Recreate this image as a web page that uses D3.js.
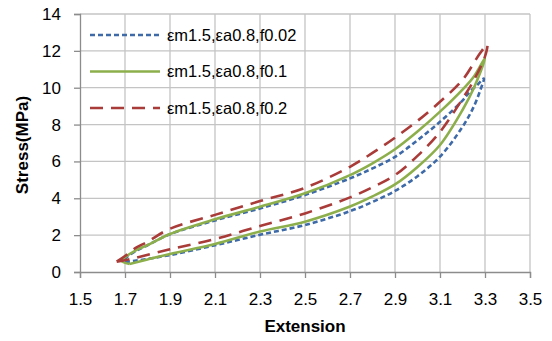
<!DOCTYPE html>
<html>
<head>
<meta charset="utf-8">
<script src="https://cdn.jsdelivr.net/npm/d3@7"></script>
<style>
  body { margin: 0; background: #fff; }
  text { font-family: "Liberation Sans", Arial, sans-serif; fill: #000; }
</style>
</head>
<body>
<svg id="chart" width="552" height="341"></svg>
<script>
// series names
const seriesNames = ["εm1.5,εa0.8,f0.02", "εm1.5,εa0.8,f0.1", "εm1.5,εa0.8,f0.2"];

// loops: [extension, stress], lower branch up to the peak then upper branch back
const loopF002 = [
    [1.70, 0.55], [1.75, 0.62], [1.9, 0.92], [2.1, 1.45], [2.3, 2.02], [2.5, 2.55],
    [2.7, 3.3], [2.8, 3.8], [2.9, 4.4], [3.0, 5.2], [3.1, 6.26], [3.2, 7.88],
    [3.25, 8.97], [3.28, 9.9], [3.295, 10.5],
    [3.27, 10.2], [3.23, 9.75], [3.2, 9.3], [3.1, 8.15], [3.0, 7.15], [2.9, 6.25],
    [2.8, 5.62], [2.7, 5.08], [2.5, 4.18], [2.3, 3.45], [2.1, 2.8], [1.9, 2.05],
    [1.8, 1.45], [1.75, 1.15], [1.70, 0.7], [1.70, 0.55]
];

const loopF01 = [
    [1.72, 0.43], [1.8, 0.68], [1.9, 0.98], [2.1, 1.52], [2.3, 2.2], [2.5, 2.73],
    [2.7, 3.55], [2.8, 4.1], [2.9, 4.75], [3.0, 5.7], [3.1, 6.89], [3.2, 8.79],
    [3.25, 9.97], [3.3, 11.6],
    [3.25, 10.6], [3.2, 9.9], [3.1, 8.7], [3.0, 7.62], [2.9, 6.66], [2.8, 5.9],
    [2.7, 5.26], [2.5, 4.27], [2.3, 3.54], [2.1, 2.86], [1.9, 2.06], [1.8, 1.46],
    [1.75, 1.19], [1.70, 0.8], [1.685, 0.6], [1.72, 0.43]
];

const loopF02 = [
    [1.663, 0.56], [1.72, 0.69], [1.9, 1.23], [2.1, 1.79], [2.3, 2.5], [2.5, 3.18],
    [2.7, 4.05], [2.8, 4.6], [2.9, 5.26], [3.0, 6.3], [3.1, 7.6], [3.2, 9.4],
    [3.25, 10.4], [3.3, 11.7], [3.31, 12.35],
    [3.278, 11.87], [3.2, 10.42], [3.1, 9.24], [3.0, 8.2], [2.9, 7.29], [2.8, 6.46],
    [2.7, 5.71], [2.5, 4.57], [2.3, 3.85], [2.1, 3.1], [1.9, 2.35], [1.8, 1.64],
    [1.744, 1.28], [1.7, 0.87], [1.663, 0.56]
];

const xTicks = [1.5, 1.7, 1.9, 2.1, 2.3, 2.5, 2.7, 2.9, 3.1, 3.3, 3.5];
const yTicks = [0, 2, 4, 6, 8, 10, 12, 14];

var loops = [loopF002, loopF01, loopF02];
var colors = ["#3E6AA8", "#8DAF4B", "#A93B38"];
var dashes = ["5,3", null, "13,8"];

var svg = d3.select("#chart");
var plotLeft = 80, plotRight = 530, plotTop = 14, plotBottom = 272;

var x = d3.scaleLinear().domain([1.5, 3.5]).range([plotLeft, plotRight]);
var y = d3.scaleLinear().domain([0, 14]).range([plotBottom, plotTop]);

// gridlines
svg.append("g")
    .selectAll("line")
    .data(xTicks.slice(1))
    .join("line")
    .attr("x1", d => x(d)).attr("x2", d => x(d))
    .attr("y1", plotTop).attr("y2", plotBottom)
    .attr("stroke", "#C4C4C4").attr("stroke-width", 1.3);

svg.append("g")
    .selectAll("line")
    .data(yTicks.slice(1))
    .join("line")
    .attr("x1", plotLeft).attr("x2", plotRight)
    .attr("y1", d => y(d)).attr("y2", d => y(d))
    .attr("stroke", "#C4C4C4").attr("stroke-width", 1.3);

// axes
var xAxis = d3.axisBottom(x).tickValues(xTicks).tickSize(6).tickPadding(15)
    .tickFormat(d3.format(".1f"));
var yAxis = d3.axisLeft(y).tickValues(yTicks).tickSize(6).tickPadding(13)
    .tickFormat(d3.format("d"));

var gx = svg.append("g").attr("transform", "translate(0," + plotBottom + ")").call(xAxis);
var gy = svg.append("g").attr("transform", "translate(" + plotLeft + ",0)").call(yAxis);

[gx, gy].forEach(g => {
    g.select(".domain").attr("stroke", "#8C8C8C").attr("stroke-width", 1.3);
    g.selectAll(".tick line").attr("stroke", "#8C8C8C").attr("stroke-width", 1.3);
    g.selectAll(".tick text")
        .attr("font-family", "Liberation Sans, Arial, sans-serif")
        .attr("font-size", 17)
        .attr("fill", "#000");
});

// axis titles
svg.append("text")
    .attr("x", 305).attr("y", 332)
    .attr("text-anchor", "middle")
    .attr("font-size", 17).attr("font-weight", "bold")
    .text("Extension");

svg.append("text")
    .attr("transform", "translate(28,145) rotate(-90)")
    .attr("text-anchor", "middle")
    .attr("font-size", 17).attr("font-weight", "bold")
    .text("Stress(MPa)");

// series
var line = d3.line()
    .x(d => x(d[0]))
    .y(d => y(d[1]))
    .curve(d3.curveCatmullRom.alpha(0.5));

loops.forEach((loop, i) => {
    svg.append("path")
        .datum(loop)
        .attr("d", line)
        .attr("fill", "none")
        .attr("stroke", colors[i])
        .attr("stroke-width", 2.6)
        .attr("stroke-dasharray", dashes[i]);
});

// legend
var legend = svg.append("g").attr("transform", "translate(90,35)");
seriesNames.forEach((name, i) => {
    var row = legend.append("g").attr("transform", "translate(0," + (i * 36.5) + ")");
    row.append("line")
        .attr("x1", 0).attr("x2", 70)
        .attr("stroke", colors[i])
        .attr("stroke-width", 2.6)
        .attr("stroke-dasharray", dashes[i]);
    row.append("text")
        .attr("x", 77).attr("dy", "0.35em")
        .attr("font-size", 16.5)
        .text(name);
});
</script>
</body>
</html>
